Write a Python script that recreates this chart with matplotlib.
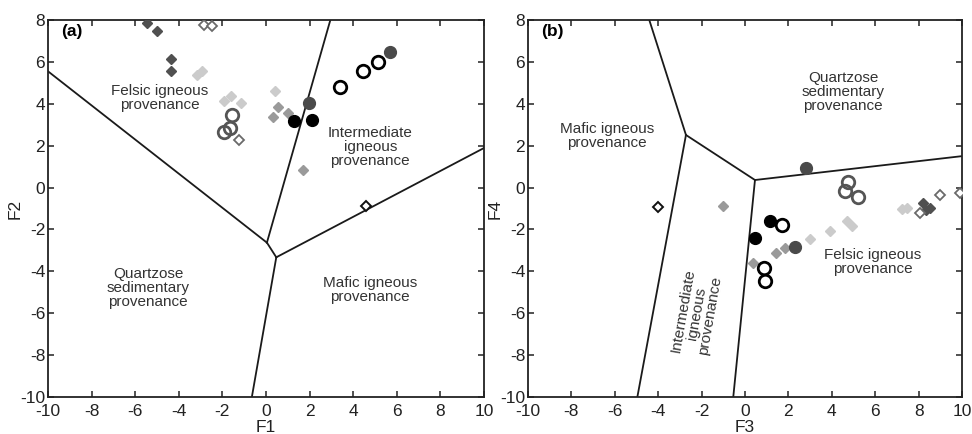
import numpy as np
import matplotlib
matplotlib.use('Agg')
import matplotlib.pyplot as plt

plt.rcParams['font.family'] = ['Liberation Sans', 'DejaVu Sans']
plt.rcParams['axes.unicode_minus'] = False

# ---- panel (a) data: F1 vs F2 ----
a_dark_dia_x = [-5.47, -4.98, -4.37, -4.37]
a_dark_dia_y = [7.87, 7.49, 6.14, 5.58]
a_light_dia_x = [-3.17, -2.94, -1.95, -1.60, -1.15, 0.39]
a_light_dia_y = [5.37, 5.58, 4.15, 4.35, 4.02, 4.62]
a_mid_dia_x = [0.57, 0.32, 0.99, 1.69]
a_mid_dia_y = [3.83, 3.35, 3.57, 0.84]
a_open_dia_gray_x = [-2.84, -2.46, -1.26]
a_open_dia_gray_y = [7.76, 7.71, 2.27]
a_open_dia_black_x = [4.59]
a_open_dia_black_y = [-0.87]
a_open_circ_gray_x = [-1.57, -1.64, -1.95]
a_open_circ_gray_y = [3.46, 2.83, 2.67]
a_open_circ_black_x = [3.38, 4.46, 5.15]
a_open_circ_black_y = [4.79, 5.56, 5.99]
a_fill_circ_black_x = [1.29, 2.11]
a_fill_circ_black_y = [3.19, 3.22]
a_fill_circ_dark_x = [1.95, 5.70]
a_fill_circ_dark_y = [4.02, 6.49]

# boundary lines (a)
a_lines = [
    ([-10, 0.04], [5.55, -2.63]),
    ([0.04, 2.95], [-2.63, 8]),
    ([0.04, 0.47], [-2.63, -3.33]),
    ([0.47, 10], [-3.33, 1.89]),
    ([0.47, -0.65], [-3.33, -10]),
]

# ---- panel (b) data: F3 vs F4 ----
b_dark_dia_x = [8.22, 8.53, 8.35]
b_dark_dia_y = [-0.75, -0.99, -1.05]
b_light_dia_x = [2.99, 3.92, 4.70, 4.95, 7.22, 7.45]
b_light_dia_y = [-2.47, -2.06, -1.62, -1.85, -1.04, -1.00]
b_mid_dia_x = [-1.00, 1.43, 1.84, 0.36]
b_mid_dia_y = [-0.88, -3.14, -2.90, -3.59]
b_open_dia_gray_x = [8.06, 8.99, 9.91]
b_open_dia_gray_y = [-1.23, -0.36, -0.28]
b_open_dia_black_x = [-4.00]
b_open_dia_black_y = [-0.94]
b_open_circ_gray_x = [4.76, 4.61, 5.22]
b_open_circ_gray_y = [0.28, -0.15, -0.44]
b_open_circ_black_x = [1.69, 0.89, 0.92]
b_open_circ_black_y = [-1.79, -3.86, -4.46]
b_fill_circ_black_x = [1.15, 0.46]
b_fill_circ_black_y = [-1.58, -2.43]
b_fill_circ_dark_x = [2.30, 2.81]
b_fill_circ_dark_y = [-2.86, 0.92]

b_lines = [
    ([-4.41, -2.72], [8, 2.51]),
    ([-2.72, 0.46], [2.51, 0.36]),
    ([0.46, 10], [0.36, 1.50]),
    ([-2.72, -4.96], [2.51, -10]),
    ([0.46, -0.54], [0.36, -10]),
]

ticks = np.arange(-10, 11, 2)
yticks = np.arange(-10, 9, 2)

fig = plt.figure(figsize=(9.72, 4.34), dpi=100)
axa = fig.add_axes([0.0494, 0.0853, 0.4486, 0.8686])
axb = fig.add_axes([0.5432, 0.0853, 0.4465, 0.8686])


def draw(ax, lines, d):
    for xs, ys in lines:
        ax.plot(xs, ys, color='#1a1a1a', lw=1.3, zorder=2)
    ax.plot(d['ldx'], d['ldy'], 'D', ms=5.5, color='#cbcbcb', mec='#cbcbcb', zorder=3)
    ax.plot(d['mdx'], d['mdy'], 'D', ms=5.5, color='#9a9a9a', mec='#9a9a9a', zorder=3)
    ax.plot(d['ddx'], d['ddy'], 'D', ms=5.5, color='#505050', mec='#505050', zorder=3)
    ax.plot(d['ogx'], d['ogy'], 'D', ms=5.3, mfc='white', mec='#6a6a6a', mew=1.3, zorder=4)
    ax.plot(d['obx'], d['oby'], 'D', ms=5.3, mfc='white', mec='#111111', mew=1.4, zorder=4)
    ax.plot(d['ocgx'], d['ocgy'], 'o', ms=9, mfc='none', mec='#555555', mew=2.0, zorder=4)
    ax.plot(d['ocbx'], d['ocby'], 'o', ms=9, mfc='white', mec='#000000', mew=2.0, zorder=4)
    ax.plot(d['fcbx'], d['fcby'], 'o', ms=8.5, color='#000000', zorder=5)
    ax.plot(d['fcdx'], d['fcdy'], 'o', ms=8.5, color='#4a4a4a', zorder=5)
    ax.set_xlim(-10, 10)
    ax.set_ylim(-10, 8)
    ax.set_xticks(ticks)
    ax.set_yticks(yticks)
    ax.tick_params(direction='in', top=True, right=True, length=4, width=1.1,
                   labelsize=12.5, pad=2, colors='#222222')
    ax.tick_params(axis='x', pad=5)
    for s in ax.spines.values():
        s.set_linewidth(1.3)
        s.set_color('#222222')


draw(axa, a_lines, dict(ldx=a_light_dia_x, ldy=a_light_dia_y, mdx=a_mid_dia_x, mdy=a_mid_dia_y,
                        ddx=a_dark_dia_x, ddy=a_dark_dia_y, ogx=a_open_dia_gray_x, ogy=a_open_dia_gray_y,
                        obx=a_open_dia_black_x, oby=a_open_dia_black_y,
                        ocgx=a_open_circ_gray_x, ocgy=a_open_circ_gray_y,
                        ocbx=a_open_circ_black_x, ocby=a_open_circ_black_y,
                        fcbx=a_fill_circ_black_x, fcby=a_fill_circ_black_y,
                        fcdx=a_fill_circ_dark_x, fcdy=a_fill_circ_dark_y))
draw(axb, b_lines, dict(ldx=b_light_dia_x, ldy=b_light_dia_y, mdx=b_mid_dia_x, mdy=b_mid_dia_y,
                        ddx=b_dark_dia_x, ddy=b_dark_dia_y, ogx=b_open_dia_gray_x, ogy=b_open_dia_gray_y,
                        obx=b_open_dia_black_x, oby=b_open_dia_black_y,
                        ocgx=b_open_circ_gray_x, ocgy=b_open_circ_gray_y,
                        ocbx=b_open_circ_black_x, ocby=b_open_circ_black_y,
                        fcbx=b_fill_circ_black_x, fcby=b_fill_circ_black_y,
                        fcdx=b_fill_circ_dark_x, fcdy=b_fill_circ_dark_y))

axa.set_xlabel('F1', fontsize=12.5, labelpad=0.5, color='#222222')
axa.set_ylabel('F2', fontsize=12.5, labelpad=-2, color='#222222')
axb.set_xlabel('F3', fontsize=12.5, labelpad=0.5, color='#222222')
axb.set_ylabel('F4', fontsize=12.5, labelpad=-2, color='#222222')

tc = '#333333'
fs = 11
axa.text(-9.4, 7.45, '(a)', fontsize=12.5, fontweight='bold', va='center', ha='left')
axa.text(-4.86, 4.28, 'Felsic igneous\nprovenance', fontsize=fs, color=tc, ha='center', va='center', linespacing=1.0)
axa.text(4.78, 1.95, 'Intermediate\nigneous\nprovenance', fontsize=fs, color=tc, ha='center', va='center', linespacing=1.0)
axa.text(-5.41, -4.8, 'Quartzose\nsedimentary\nprovenance', fontsize=fs, color=tc, ha='center', va='center', linespacing=1.0)
axa.text(4.78, -4.9, 'Mafic igneous\nprovenance', fontsize=fs, color=tc, ha='center', va='center', linespacing=1.0)

axb.text(-9.4, 7.45, '(b)', fontsize=12.5, fontweight='bold', va='center', ha='left')
axb.text(-6.36, 2.46, 'Mafic igneous\nprovenance', fontsize=fs, color=tc, ha='center', va='center', linespacing=1.0)
axb.text(4.52, 4.56, 'Quartzose\nsedimentary\nprovenance', fontsize=fs, color=tc, ha='center', va='center', linespacing=1.0)
axb.text(-2.23, -6.0, 'Intermediate\nigneous\nprovenance', fontsize=fs, color=tc, ha='center', va='center',
         linespacing=1.0, rotation=80, rotation_mode='anchor')
axb.text(5.90, -3.54, 'Felsic igneous\nprovenance', fontsize=fs, color=tc, ha='center', va='center', linespacing=1.0)

fig.savefig('out.png', dpi=100)
